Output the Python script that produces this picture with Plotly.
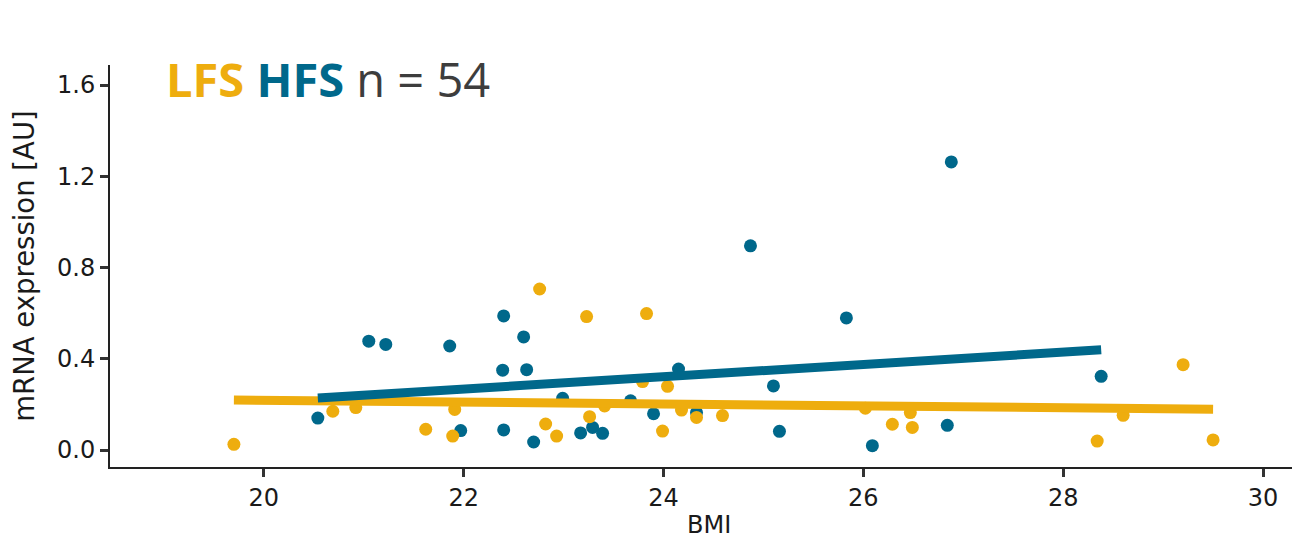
import numpy as np
import plotly.graph_objects as go

# HFS (blue) observations
hfs_bmi = [20.54, 21.05, 21.22, 21.86, 21.97, 22.40, 22.39, 22.40, 22.60, 22.63,
           22.70, 22.99, 23.17, 23.29, 23.39, 23.67, 23.90, 24.15, 24.33, 24.87,
           25.83, 25.10, 25.16, 26.09, 26.84, 26.88, 28.38]
hfs_expr = [0.140, 0.477, 0.463, 0.456, 0.085, 0.588, 0.350, 0.088, 0.496, 0.352,
            0.035, 0.227, 0.075, 0.099, 0.073, 0.216, 0.159, 0.355, 0.164, 0.895,
            0.579, 0.281, 0.082, 0.019, 0.108, 1.263, 0.323]

# LFS (orange) observations
lfs_bmi = [19.70, 20.69, 20.92, 21.62, 21.89, 21.91, 22.76, 22.82, 22.93, 23.23,
           23.26, 23.41, 23.83, 23.79, 24.04, 23.99, 24.18, 24.33, 24.59, 26.02,
           26.29, 26.47, 26.49, 28.34, 28.60, 29.20, 29.50]
lfs_expr = [0.025, 0.170, 0.186, 0.091, 0.061, 0.178, 0.706, 0.114, 0.061, 0.585,
            0.146, 0.193, 0.598, 0.300, 0.279, 0.083, 0.175, 0.143, 0.151, 0.183,
            0.113, 0.164, 0.099, 0.039, 0.152, 0.374, 0.044]

x_ticks = [20, 22, 24, 26, 28, 30]
y_ticks = [0.0, 0.4, 0.8, 1.2, 1.6]
y_tick_text = ["0.0", "0.4", "0.8", "1.2", "1.6"]

ORANGE = "#EEAD0E"
BLUE = "#00688B"


def fit_line(xs, ys):
    xs = np.asarray(xs, float)
    ys = np.asarray(ys, float)
    b, a = np.polyfit(xs, ys, 1)
    xl = np.array([xs.min(), xs.max()])
    return xl, a + b * xl


fig = go.Figure()
fig.add_trace(go.Scatter(x=hfs_bmi, y=hfs_expr, mode="markers",
                         marker=dict(color=BLUE, size=13, line=dict(width=0)),
                         name="HFS", showlegend=False))
fig.add_trace(go.Scatter(x=lfs_bmi, y=lfs_expr, mode="markers",
                         marker=dict(color=ORANGE, size=13, line=dict(width=0)),
                         name="LFS", showlegend=False))
lx, ly = fit_line(lfs_bmi, lfs_expr)
fig.add_trace(go.Scatter(x=lx, y=ly, mode="lines",
                         line=dict(color=ORANGE, width=9), showlegend=False))
hx, hy = fit_line(hfs_bmi, hfs_expr)
fig.add_trace(go.Scatter(x=hx, y=hy, mode="lines",
                         line=dict(color=BLUE, width=9), showlegend=False))

axis_common = dict(showgrid=False, zeroline=False, showline=True,
                   linecolor="#222222", linewidth=2,
                   ticks="outside", ticklen=8, tickwidth=2.5, tickcolor="#333333",
                   tickfont=dict(family="DejaVu Sans", size=24, color="#1a1a1a"))

fig.update_xaxes(range=[18.46, 30.45], tickvals=x_ticks, **axis_common)
fig.update_yaxes(range=[-0.0745, 1.688], tickvals=y_ticks, ticktext=y_tick_text,
                 title=dict(text="mRNA expression [AU]",
                            font=dict(family="DejaVu Sans", size=27.5, color="#1a1a1a"),
                            standoff=14),
                 **axis_common)

fig.add_annotation(xref="paper", yref="paper", x=0.5, y=-0.145,
                   xanchor="center", yanchor="middle", showarrow=False,
                   text="BMI", font=dict(family="DejaVu Sans", size=24, color="#1a1a1a"))

fig.add_annotation(xref="paper", yref="paper", x=0.045, y=0.965,
                   xanchor="left", yanchor="middle", showarrow=False,
                   text=(f"<b><span style='color:{ORANGE}'>LFS</span></b> "
                         f"<b><span style='color:{BLUE}'>HFS</span></b> "
                         "<span style='color:#3d3d3d'>n = 54</span>"),
                   font=dict(family="Open Sans", size=47, color="#3d3d3d"))

fig.update_layout(width=1300, height=540,
                  margin=dict(l=102, r=0, t=57, b=81, autoexpand=False),
                  paper_bgcolor="white", plot_bgcolor="white")

fig.write_html("out.html")
